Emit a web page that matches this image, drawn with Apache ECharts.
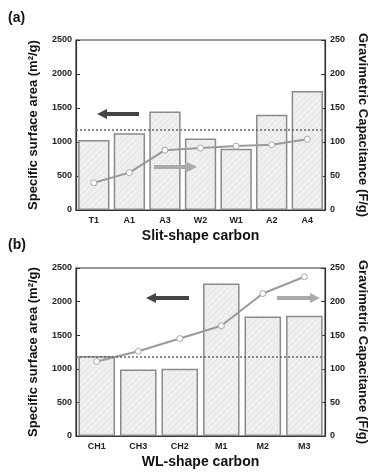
<!DOCTYPE html>
<html>
<head>
<meta charset="utf-8">
<script src="https://cdn.jsdelivr.net/npm/echarts@6/dist/echarts.min.js"></script>
<style>
  html, body { margin: 0; padding: 0; background: #fff; }
  #chart { width: 377px; height: 472px; }
</style>
</head>
<body>
<div id="chart"></div>
<script>
const catsA = ['T1', 'A1', 'A3', 'W2', 'W1', 'A2', 'A4'];
const areaA = [1030, 1130, 1450, 1050, 900, 1400, 1750];
const capA = [40, 55, 88, 91, 94, 96, 104];

const catsB = ['CH1', 'CH3', 'CH2', 'M1', 'M2', 'M3'];
const areaB = [1190, 990, 1000, 2270, 1780, 1790];
const capB = [111, 126, 145, 164, 212, 237];

const refArea = 1180;

const font = '"Liberation Sans", Arial, sans-serif';
const axisCol = '#333';

// faint hatch for the bars
function hatch() {
  const c = document.createElement('canvas');
  c.width = 6; c.height = 6;
  const g = c.getContext('2d');
  g.fillStyle = '#efefef';
  g.fillRect(0, 0, 6, 6);
  g.strokeStyle = '#e3e3e3';
  g.lineWidth = 1;
  g.beginPath();
  g.moveTo(0, 6); g.lineTo(6, 0);
  g.stroke();
  return c;
}
const pattern = { image: hatch(), repeat: 'repeat' };

const chart = echarts.init(document.getElementById('chart'));

const label = { color: '#222', fontFamily: font, fontWeight: 'bold', fontSize: 9, formatter: v => String(v) };
const nameStyle = { color: '#111', fontFamily: font, fontWeight: 'bold', fontSize: 13 };

function xAxis(gi, cats, name) {
  return {
    type: 'category', gridIndex: gi, data: cats,
    name: name, nameLocation: 'middle', nameGap: 19,
    nameTextStyle: Object.assign({}, nameStyle, { fontSize: 14 }),
    axisLine: { lineStyle: { color: axisCol, width: 1.2 } },
    axisTick: { inside: true, length: 4, lineStyle: { color: axisCol } },
    axisLabel: Object.assign({ margin: 6 }, label)
  };
}

function yLeft(gi) {
  return {
    type: 'value', gridIndex: gi, min: 0, max: 2500, interval: 500,
    name: 'Specific surface area (m²/g)', nameLocation: 'middle', nameGap: 36,
    nameRotate: 90, nameTextStyle: nameStyle,
    axisLine: { show: true, lineStyle: { color: axisCol, width: 1.2 } },
    axisTick: { show: true, inside: true, length: 4, lineStyle: { color: axisCol } },
    axisLabel: Object.assign({ margin: 4 }, label),
    splitLine: { show: false }
  };
}

function yRight(gi) {
  return {
    type: 'value', gridIndex: gi, min: 0, max: 250, interval: 50, position: 'right',
    name: 'Gravimetric Capacitance (F/g)', nameLocation: 'middle', nameGap: 30,
    nameRotate: -90, nameTextStyle: nameStyle,
    axisLine: { show: true, lineStyle: { color: axisCol, width: 1.2 } },
    axisTick: { show: true, inside: true, length: 4, lineStyle: { color: axisCol } },
    axisLabel: Object.assign({ margin: 5 }, label),
    splitLine: { show: false }
  };
}

function bars(xi, yi, data) {
  return {
    type: 'bar', xAxisIndex: xi, yAxisIndex: yi, data: data,
    barCategoryGap: '12%',
    itemStyle: { color: pattern, borderColor: '#8a8a8a', borderWidth: 1.5 },
    markLine: {
      silent: true, symbol: 'none', label: { show: false },
      lineStyle: { color: '#666', type: [2, 2], width: 1.5 },
      data: [{ yAxis: refArea }]
    }
  };
}

function line(xi, yi, data) {
  return {
    type: 'line', xAxisIndex: xi, yAxisIndex: yi, data: data,
    symbol: 'circle', symbolSize: 6,
    lineStyle: { color: '#9a9a9a', width: 2 },
    itemStyle: { color: '#fff', borderColor: '#a8a8a8', borderWidth: 1 }
  };
}

function arrow(x1, x2, y, color) {
  // tip at x2
  const dir = x2 > x1 ? 1 : -1;
  const head = 10;
  return {
    type: 'group', z: 100,
    children: [
      { type: 'line', z: 100, shape: { x1: x1, y1: y, x2: x2 - dir * head, y2: y },
        style: { stroke: color, lineWidth: 4 } },
      { type: 'polygon', z: 100, shape: { points: [[x2, y], [x2 - dir * head, y - 5], [x2 - dir * head, y + 5]] },
        style: { fill: color } }
    ]
  };
}

chart.setOption({
  animation: false,
  backgroundColor: '#fff',
  textStyle: { fontFamily: font },
  grid: [
    { left: 76, right: 47, top: 40, height: 170, show: true, borderColor: axisCol, borderWidth: 1.2, backgroundColor: 'transparent' },
    { left: 76, right: 47, top: 268, height: 168, show: true, borderColor: axisCol, borderWidth: 1.2, backgroundColor: 'transparent' }
  ],
  xAxis: [xAxis(0, catsA, 'Slit-shape carbon'), xAxis(1, catsB, 'WL-shape carbon')],
  yAxis: [yLeft(0), yRight(0), yLeft(1), yRight(1)],
  series: [
    bars(0, 0, areaA), line(0, 1, capA),
    bars(1, 2, areaB), line(1, 3, capB)
  ],
  graphic: [
    { type: 'text', left: 8, top: 11, style: { text: '(a)', font: 'bold 14px ' + font, fill: '#111' } },
    { type: 'text', left: 8, top: 238, style: { text: '(b)', font: 'bold 14px ' + font, fill: '#111' } },
    arrow(139, 97, 114, '#444'),
    arrow(154, 197, 167, '#aaa'),
    arrow(189, 146, 298, '#444'),
    arrow(277, 320, 298, '#aaa')
  ]
});
</script>
</body>
</html>
